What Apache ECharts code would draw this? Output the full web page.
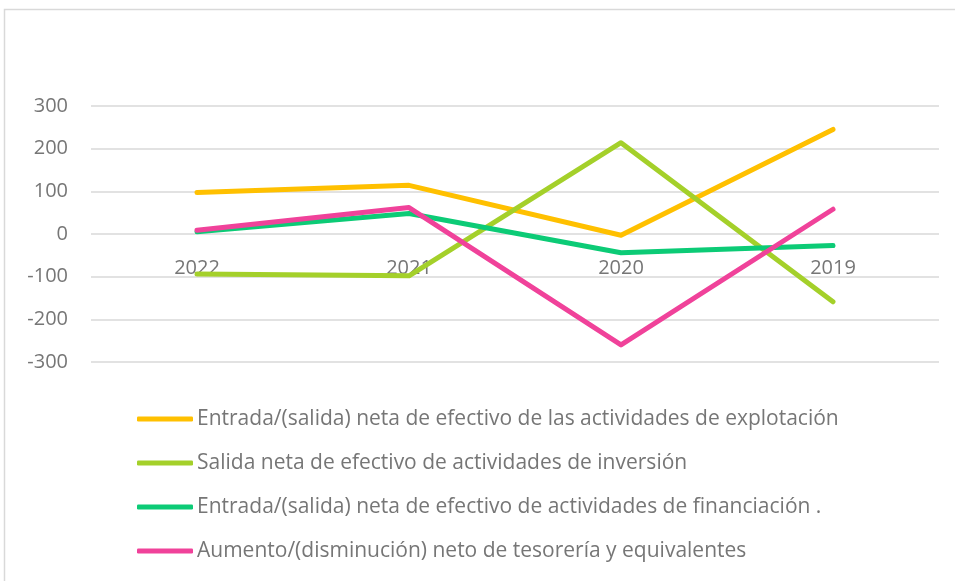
<!DOCTYPE html>
<html>
<head>
<meta charset="utf-8">
<script src="https://cdn.jsdelivr.net/npm/echarts@6/dist/echarts.min.js"></script>
<style>
  html, body { margin: 0; padding: 0; background: #fff; }
  #chart { width: 955px; height: 581px; }
</style>
</head>
<body>
<div id="chart"></div>
<script>
// años (eje de categorías)
const years = ['2022', '2021', '2020', '2019'];

// series
const explotacion = [97, 114, -3, 245];
const inversion = [-94, -98, 214, -159];
const financiacion = [5, 48, -44, -27];
const tesoreria = [9, 62, -260, 58];

const seriesNames = [
  'Entrada/(salida) neta de efectivo de las actividades de explotación',
  'Salida neta de efectivo de actividades de inversión',
  'Entrada/(salida) neta de efectivo de actividades de financiación .',
  'Aumento/(disminución) neto de tesorería y equivalentes'
];
const seriesData = [explotacion, inversion, financiacion, tesoreria];
const colors = ['#FFC000', '#A4D02A', '#0CCB76', '#F0429A'];

const font = '"Open Sans", "Noto Sans", sans-serif';

const chart = echarts.init(document.getElementById('chart'), null, { renderer: 'canvas' });

const option = {
  animation: false,
  color: colors,
  graphic: [{
    type: 'rect',
    shape: { x: 4.5, y: 9.5, width: 1000, height: 700 },
    style: { fill: 'none', stroke: '#d9d9d9', lineWidth: 1.5 },
    silent: true
  }],
  grid: { left: 91, right: 16, top: 106, bottom: 219 },
  legend: {
    orient: 'vertical',
    left: 132,
    top: 400,
    itemWidth: 56,
    itemHeight: 5,
    itemGap: 16,
    icon: 'roundRect',
    textStyle: { color: '#767676', fontSize: 21, fontFamily: font, lineHeight: 28, padding: [0, 0, 0, -1] },
    data: seriesNames
  },
  xAxis: {
    type: 'category',
    data: years,
    boundaryGap: true,
    // el eje cruza en 0: se sube desde el borde inferior del grid
    offset: -128,
    axisLine: { show: false, onZero: false },
    axisTick: { show: false },
    axisLabel: { color: '#767676', fontSize: 20, fontFamily: font, margin: 24 }
  },
  yAxis: {
    type: 'value',
    min: -300,
    max: 300,
    interval: 100,
    axisLine: { show: false },
    axisTick: { show: false },
    axisLabel: { color: '#767676', fontSize: 20, fontFamily: font, margin: 23 },
    splitLine: { lineStyle: { color: '#d9d9d9', width: 1.5 } }
  },
  series: seriesNames.map((name, i) => ({
    name: name,
    type: 'line',
    data: seriesData[i],
    showSymbol: false,
    symbol: 'none',
    lineStyle: { width: 5, color: colors[i], cap: 'round', join: 'round' },
    itemStyle: { color: colors[i] }
  }))
};

chart.setOption(option);
</script>
</body>
</html>
